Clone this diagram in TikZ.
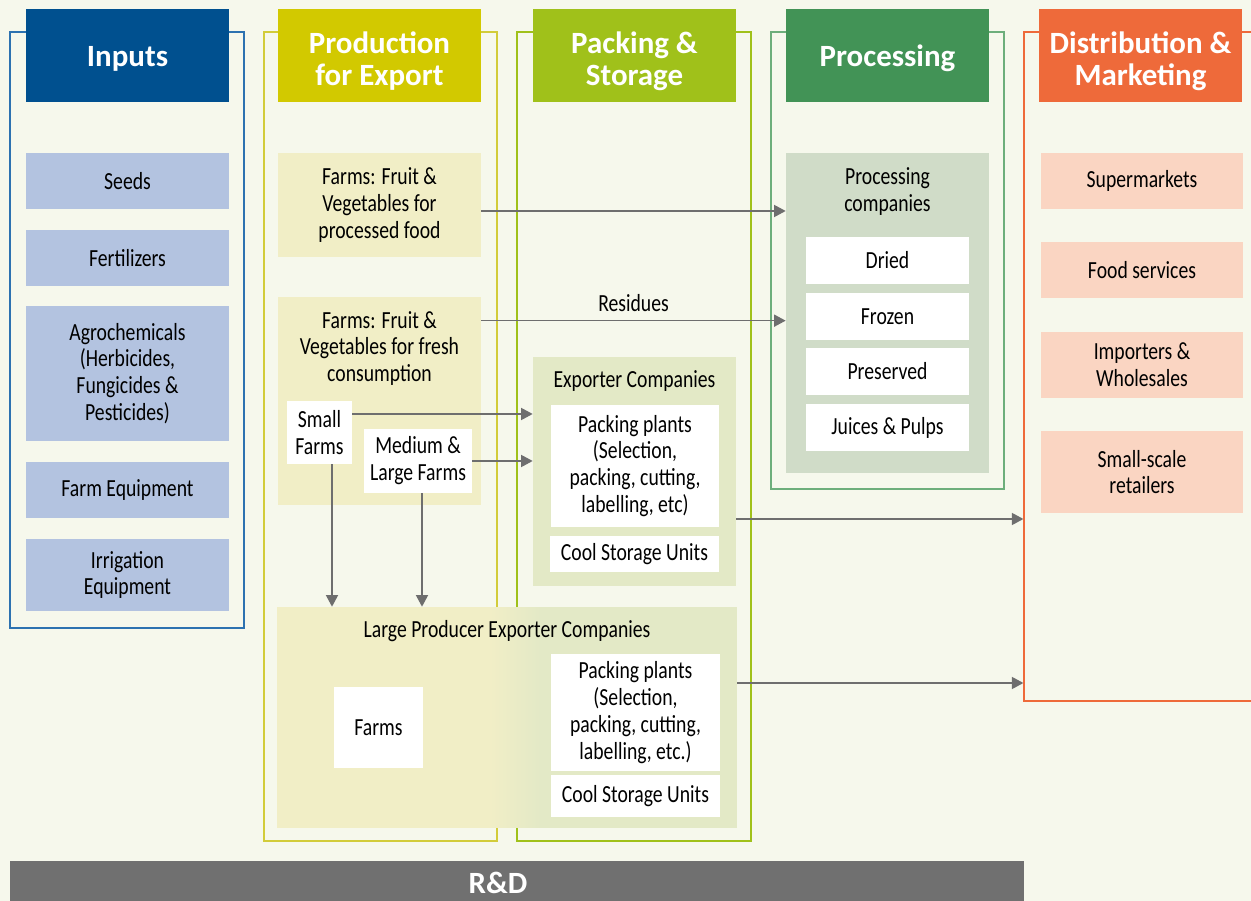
\documentclass[tikz,border=0pt]{standalone}
\usepackage{fontspec}
\setmainfont{Carlito}[FakeStretch=0.8]
\newfontfamily\headfont{Carlito}
\usepackage{xcolor}
\usetikzlibrary{positioning, arrows.meta}

\definecolor{bgcol}{HTML}{F6F8EC}
\definecolor{inblue}{HTML}{00508F}
\definecolor{inlight}{HTML}{B3C3E0}
\definecolor{inline}{HTML}{2D72B0}
\definecolor{prodyel}{HTML}{D2C900}
\definecolor{prodlight}{HTML}{F1EEC6}
\definecolor{prodline}{HTML}{D2CC3A}
\definecolor{packgreen}{HTML}{A0C11A}
\definecolor{packlight}{HTML}{E3E9C6}
\definecolor{procgreen}{HTML}{429356}
\definecolor{procline}{HTML}{6DAE7B}
\definecolor{proclight}{HTML}{D0DCC8}
\definecolor{distorange}{HTML}{EE6A3A}
\definecolor{distlight}{HTML}{FAD5C2}
\definecolor{rdgray}{HTML}{707070}
\definecolor{arrowgray}{HTML}{6E6E6E}

% yellow to green across the large producer box
\pgfdeclarehorizontalshading{lpecshade}{100bp}{color(0bp)=(prodlight); color(48.15bp)=(prodlight); color(53.6bp)=(packlight); color(100bp)=(packlight)}

\begin{document}
\begin{tikzpicture}[x=0.02cm, y=-0.02cm,
        colframe/.style={rectangle, draw, line width=0.7pt, inner sep=0pt},
        head/.style={rectangle, minimum width=4.06cm, minimum height=1.86cm, inner sep=0pt},
        headtxt/.style={text=white, align=center, inner sep=0pt, font=\headfont\bfseries\fontsize{17.6}{18.2}\selectfont},
        cell/.style={rectangle, inner sep=0pt, align=center, font=\fontsize{14}{15.3}\selectfont},
        incell/.style={cell, fill=inlight, minimum width=4.06cm},
        prodcell/.style={cell, fill=prodlight, minimum width=4.06cm},
        distcell/.style={cell, fill=distlight, minimum width=4.04cm},
        whitecell/.style={cell, fill=white},
        flow/.style={draw=arrowgray, line width=0.8pt, -{Triangle[length=2.3mm, width=2.4mm]}}]

        % background
        \useasboundingbox (0,0) rectangle (1251,901);
        \fill[bgcol] (0,0) rectangle (1251,901);

        % column frames
        \node[colframe, draw=inline, minimum width=4.68cm, minimum height=11.92cm] (inframe) at (127,330) {};
        \node[colframe, draw=prodline, minimum width=4.66cm, minimum height=16.18cm] (prodframe) at (380.5,436.5) {};
        \node[colframe, draw=packgreen, minimum width=4.68cm, minimum height=16.18cm] (packframe) at (634,436.5) {};
        \node[colframe, draw=procline, minimum width=4.66cm, minimum height=9.14cm] (procframe) at (887.5,260.5) {};
        \node[colframe, draw=distorange, minimum width=4.92cm, minimum height=13.38cm] (distframe) at (1147,366.5) {};

        % headers
        \node[head, fill=inblue] (inhead) at (127.5,55.5) {};
        \node[head, fill=prodyel] (prodhead) at (379.5,55.5) {};
        \node[head, fill=packgreen] (packhead) at (634.5,55.5) {};
        \node[head, fill=procgreen] (prochead) at (887.5,55.5) {};
        \node[head, fill=distorange] (disthead) at (1140.5,55.5) {};
        \node[headtxt] (intxt) at (127.5,58.5) {Inputs};
        \node[headtxt] (prodtxt) at (379.5,61) {Production\\for Export};
        \node[headtxt] (packtxt) at (634.5,61) {Packing \&\\Storage};
        \node[headtxt] (proctitle) at (887.5,58.5) {Processing};
        \node[headtxt] (disttxt) at (1140.5,61) {Distribution \&\\Marketing};

        % Inputs
        \node[incell, minimum height=1.12cm] (seeds) at (127.5,181) {Seeds};
        \node[incell, minimum height=1.12cm] (fert) at (127.5,258) {Fertilizers};
        \node[incell, minimum height=2.7cm] (agro) at (127.5,373.5) {Agrochemicals\\(Herbicides,\\Fungicides \&\\Pesticides)};
        \node[incell, minimum height=1.12cm] (equip) at (127.5,490) {Farm Equipment};
        \node[incell, minimum height=1.44cm] (irrig) at (127.5,575) {Irrigation\\Equipment};

        % Production for export
        \node[prodcell, minimum height=2.08cm] (procfood) at (379.5,205) {Farms: Fruit \&\\Vegetables for\\processed food};
        \node[prodcell, minimum height=4.16cm] (fresh) at (379.5,401) {};
        \node[cell] (freshtxt) at (379.5,348.5) {Farms: Fruit \&\\Vegetables for fresh\\consumption};
        \node[whitecell, minimum width=1.3cm, minimum height=1.26cm] (small) at (319.5,432.5) {Small\\Farms};
        \node[whitecell, minimum width=2.16cm, minimum height=1.28cm] (medium) at (418,461) {Medium \&\\Large Farms};

        % Packing and storage
        \node[cell, fill=packlight, minimum width=4.06cm, minimum height=4.58cm] (exporter) at (634.5,471.5) {};
        \node[cell] (exptxt) at (634.5,381) {Exporter Companies};
        \node[whitecell, minimum width=3.36cm, minimum height=2.44cm] (plants) at (635,466) {Packing plants\\(Selection,\\packing, cutting,\\labelling, etc)};
        \node[whitecell, minimum width=3.38cm, minimum height=0.72cm] (cool) at (634.5,554) {Cool Storage Units};

        % Large producers
        \node[cell, shade, shading=lpecshade, minimum width=9.2cm, minimum height=4.42cm] (lpec) at (507,717.5) {};
        \node[cell] (lpectxt) at (507,631) {Large Producer Exporter Companies};
        \node[whitecell, minimum width=1.78cm, minimum height=1.62cm] (farms) at (378.5,727.5) {Farms};
        \node[whitecell, minimum width=3.38cm, minimum height=2.34cm] (plants2) at (635.5,712.5) {Packing plants\\(Selection,\\packing, cutting,\\labelling, etc.)};
        \node[whitecell, minimum width=3.38cm, minimum height=0.84cm] (cool2) at (635.5,796) {Cool Storage Units};

        % Processing
        \node[cell, fill=proclight, minimum width=4.06cm, minimum height=6.4cm] (proccomp) at (887.5,313) {};
        \node[cell] (proctxt) at (887.5,191.5) {Processing\\companies};
        \node[whitecell, minimum width=3.26cm, minimum height=0.94cm] (dried) at (887.5,260.5) {Dried};
        \node[whitecell, minimum width=3.26cm, minimum height=0.94cm] (frozen) at (887.5,316.5) {Frozen};
        \node[whitecell, minimum width=3.26cm, minimum height=0.94cm] (preserved) at (887.5,371.5) {Preserved};
        \node[whitecell, minimum width=3.26cm, minimum height=0.94cm] (juices) at (887.5,427.5) {Juices \& Pulps};

        % Distribution
        \node[distcell, minimum height=1.12cm] (super) at (1142,181) {Supermarkets};
        \node[distcell, minimum height=1.12cm] (foodserv) at (1142,270) {Food services};
        \node[distcell, minimum height=1.32cm] (import) at (1142,365) {Importers \&\\Wholesales};
        \node[distcell, minimum height=1.64cm] (retail) at (1142,472) {Small-scale\\retailers};

        % R&D
        \node[rectangle, fill=rdgray, minimum width=20.28cm, minimum height=0.8cm, inner sep=0pt] (rd) at (517,881) {};
        \node[headtxt] (rdtxt) at (498,883) {R\&D};

        % flows
        \draw[flow] (procfood.east) ++(0,6) coordinate (f1) -- (f1 -| proccomp.west);
        \draw[flow] (fresh.north east) ++(0,24) coordinate (f2) -- (f2 -| proccomp.west)
            node[midway, above, cell, yshift=0.17cm] (residues) {Residues};
        \draw[flow] (small.east) ++(0,-18.5) coordinate (f3) -- (f3 -| exporter.west);
        \draw[flow] (medium.east) -- (medium.east -| exporter.west);
        \draw[flow] (small.south) ++(12.5,0) coordinate (f4) -- (f4 |- lpec.north);
        \draw[flow] (medium.south) ++(4,0) coordinate (f5) -- (f5 |- lpec.north);
        \draw[flow] (exporter.east) ++(0,47.5) coordinate (f6) -- (f6 -| distframe.west);
        \draw[flow] (lpec.east) ++(0,-34.5) coordinate (f7) -- (f7 -| distframe.west);
      \end{tikzpicture}
\end{document}
